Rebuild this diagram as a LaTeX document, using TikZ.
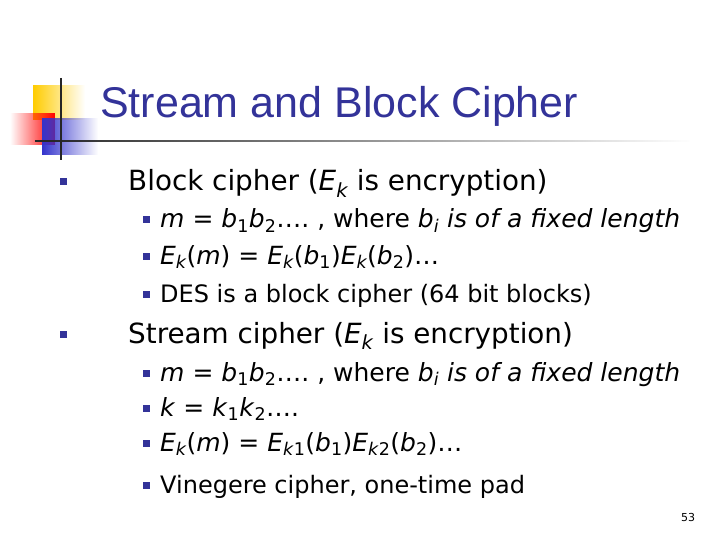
\documentclass[tikz,border=0pt]{standalone}
\usepackage{fontspec}
\setmainfont{DejaVu Sans}
\newfontfamily\titlefont{Liberation Sans}
\usetikzlibrary{fadings}
\definecolor{tblue}{RGB}{51,51,153}
\definecolor{lyel}{RGB}{255,204,0}
\definecolor{lblue}{RGB}{51,51,204}
\begin{document}
\begin{tikzpicture}[x=1pt,y=-1pt,
  txt/.style={anchor=base west,inner sep=0pt,text=black},
  l1/.style={txt,font=\fontsize{27.8}{30}\selectfont},
  l2/.style={txt,font=\fontsize{25}{26}\selectfont},
  l3/.style={txt,font=\fontsize{24}{25}\selectfont},
  bul/.style={fill=tblue,draw=none,minimum size=7pt,inner sep=0pt}]
\useasboundingbox (0,0) rectangle (720,540);
\fill[lyel,path fading=east] (33,85) rectangle (85,120);
\fill[red,path fading=west] (10,113) rectangle (55,145);
\fill[lblue,path fading=east] (42,118) rectangle (98,155);
\draw[line width=2.5pt,black!85] (61,78) -- (61,160);
\draw[line width=2.5pt,black!85,path fading=east] (35,141) -- (690,141);
\node[txt,text=tblue,font=\titlefont\fontsize{43}{44}\selectfont] (title) at (100,118) {Stream and Block Cipher};
\node[bul] (b1) at (63,182) {};
\node[l1] (t1) at (128,191) {Block cipher (\textit{E\textsubscript{k}} is encryption)};
\node[bul] (b2) at (146,220) {};
\node[l2] (t2) at (160,228) {\textit{m} = \textit{b}\textsubscript{1}\textit{b}\textsubscript{2}\dots.\ , where \textit{b\textsubscript{i}} \textit{is of a fixed length}};
\node[bul] (b3) at (146,256) {};
\node[l2] (t3) at (160,264) {\textit{E\textsubscript{k}}(\textit{m}) = \textit{E\textsubscript{k}}(\textit{b}\textsubscript{1})\textit{E\textsubscript{k}}(\textit{b}\textsubscript{2})\dots};
\node[bul] (b4) at (146,294) {};
\node[l3] (t4) at (160,302) {DES is a block cipher (64 bit blocks)};
\node[bul] (b5) at (63,334) {};
\node[l1] (t5) at (128,343) {Stream cipher (\textit{E\textsubscript{k}} is encryption)};
\node[bul] (b6) at (146,373) {};
\node[l2] (t6) at (160,381) {\textit{m} = \textit{b}\textsubscript{1}\textit{b}\textsubscript{2}\dots.\ , where \textit{b\textsubscript{i}} \textit{is of a fixed length}};
\node[bul] (b7) at (146,408) {};
\node[l2] (t7) at (160,416) {\textit{k} = \textit{k}\textsubscript{1}\textit{k}\textsubscript{2}\dots.};
\node[bul] (b8) at (146,443) {};
\node[l2] (t8) at (160,451) {\textit{E\textsubscript{k}}(\textit{m}) = \textit{E\textsubscript{k}}\textsubscript{1}(\textit{b}\textsubscript{1})\textit{E\textsubscript{k}}\textsubscript{2}(\textit{b}\textsubscript{2})\dots};
\node[bul] (b9) at (146,485) {};
\node[l3] (t9) at (160,493) {Vinegere cipher, one-time pad};
\node[txt,font=\fontsize{11}{13}\selectfont] (pg) at (681,521) {53};
\end{tikzpicture}
\end{document}
